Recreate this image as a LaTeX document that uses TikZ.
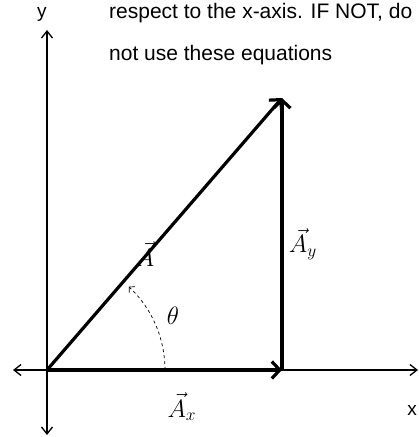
\documentclass[tikz,border=0pt]{standalone}
\usepackage{amsmath}
\usepackage{fontspec}
\setmainfont{Liberation Sans}
\usetikzlibrary{positioning,arrows.meta,calc}

\newcommand{\biglbl}[1]{\scalebox{1.45}{$#1$}}

\begin{document}
\begin{tikzpicture}[x=1pt,y=-1pt,
    axis/.style={line width=1.3pt, {Straight Barb[length=7pt,width=11pt]}-{Straight Barb[length=7pt,width=11pt]}},
    vec/.style={line width=3.2pt, -{Straight Barb[length=8pt,width=17pt,line width=3.2pt]}},
    axlbl/.style={font=\fontsize{19}{21}\selectfont, inner sep=0pt},
    mathlbl/.style={font=\fontsize{17.28}{20}\selectfont, inner sep=0pt},
    note/.style={font=\fontsize{21}{24}\selectfont, inner sep=0pt, anchor=west}]
  \useasboundingbox (0,0) rectangle (419,437);

  % axes
  \coordinate (O) at (47,370);
  \coordinate (xl) at (13,370);
  \coordinate (xr) at (418,370);
  \coordinate (yt) at (47,30);
  \coordinate (yb) at (47,435);
  \draw[axis] (xl) -- (xr);
  \draw[axis] (yb) -- (yt);
  \node[axlbl] (ylbl) at (42,14) {y};
  \node[axlbl] (xlbl) at (412,410) {x};

  % vector and its components
  \coordinate (tip) at (282,98);
  \coordinate (foot) at (282,370);
  \draw[vec] (O) -- (tip);
  \draw[vec] (O) -- (foot);
  \draw[vec] (foot) -- (tip);

  \node[mathlbl] (A) at (145,254) {\biglbl{\vec{A}}};
  \node[mathlbl] (Ay) at (303,244) {\biglbl{\vec{A}_y}};
  \node[mathlbl] (Ax) at (182,407) {\biglbl{\vec{A}_x}};

  % angle
  \draw[dashed, line width=0.7pt, -{Straight Barb[length=4pt,width=8pt]}]
    ($(O)+(118,0)$) arc[start angle=0, end angle=-47, radius=114];
  \node[mathlbl] (theta) at (173,316) {\biglbl{\theta}};

  % note
  \node[note] (line1) at (109,13) {respect to the x-axis. IF NOT, do};
  \node[note] (line2) at (109,55) {not use these equations};
\end{tikzpicture}
\end{document}
